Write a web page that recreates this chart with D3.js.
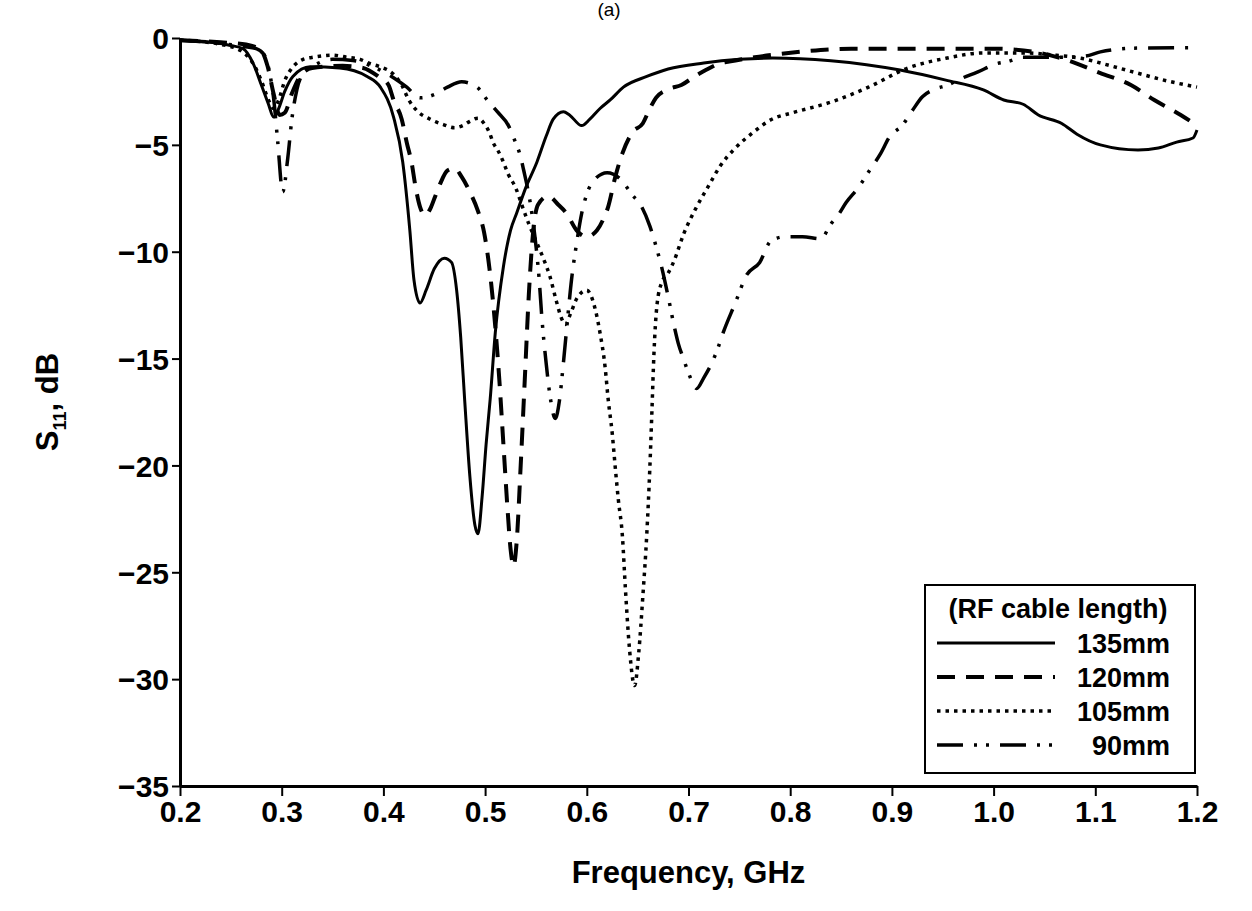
<!DOCTYPE html>
<html>
<head>
<meta charset="utf-8">
<script src="https://cdn.jsdelivr.net/npm/d3@7/dist/d3.min.js"></script>
<style>
  html, body { margin: 0; padding: 0; background: #fff; }
  svg { display: block; font-family: "Liberation Sans", Arial, sans-serif; font-weight: bold; }
</style>
</head>
<body>
<svg id="chart" width="1252" height="911"></svg>
<script>
// ======================================================================
// DATA  (frequency in GHz, S11 in dB)
// ======================================================================
const xTicks = [0.2, 0.3, 0.4, 0.5, 0.6, 0.7, 0.8, 0.9, 1.0, 1.1, 1.2];
const yTicks = [0, -5, -10, -15, -20, -25, -30, -35];

const s135 = [[0.2,-0.1],[0.23,-0.2],[0.25,-0.35],[0.262,-0.5],[0.272,-1.2],[0.28,-2.2],[0.287,-3.1],[0.292,-3.7],[0.297,-3.3],[0.303,-2.5],[0.311,-1.8],[0.328,-1.35],[0.357,-1.4],[0.384,-1.8],[0.397,-2.3],[0.41,-3.7],[0.419,-5.8],[0.426,-9.0],[0.43,-11.3],[0.436,-12.4],[0.442,-11.8],[0.45,-10.8],[0.46,-10.3],[0.467,-10.5],[0.472,-11.8],[0.476,-14],[0.48,-17],[0.485,-20.5],[0.49,-22.8],[0.493,-23.2],[0.497,-21.5],[0.501,-19],[0.505,-16.9],[0.51,-13.8],[0.518,-10.7],[0.525,-9.0],[0.531,-8.2],[0.54,-7.0],[0.551,-5.8],[0.56,-4.6],[0.567,-3.8],[0.577,-3.45],[0.583,-3.6],[0.595,-4.1],[0.603,-3.8],[0.613,-3.3],[0.623,-2.9],[0.636,-2.3],[0.659,-1.8],[0.68,-1.45],[0.715,-1.17],[0.75,-1.0],[0.783,-0.94],[0.84,-1.07],[0.875,-1.25],[0.908,-1.5],[0.953,-1.97],[0.99,-2.43],[1.01,-2.9],[1.029,-3.1],[1.044,-3.6],[1.067,-4.0],[1.082,-4.5],[1.105,-5.0],[1.142,-5.24],[1.162,-5.15],[1.18,-4.87],[1.196,-4.68],[1.2,-4.3]];

const s120 = [[0.2,-0.1],[0.24,-0.2],[0.265,-0.3],[0.28,-0.6],[0.286,-1.3],[0.292,-2.6],[0.298,-3.6],[0.303,-3.5],[0.31,-2.6],[0.318,-1.8],[0.33,-1.4],[0.36,-1.3],[0.38,-1.4],[0.395,-1.8],[0.405,-2.2],[0.41,-2.9],[0.418,-3.8],[0.423,-4.9],[0.428,-5.9],[0.431,-6.8],[0.436,-7.9],[0.441,-8.3],[0.446,-8.0],[0.451,-7.4],[0.456,-6.8],[0.463,-6.2],[0.47,-6.1],[0.477,-6.5],[0.485,-7.2],[0.493,-8.1],[0.499,-9.1],[0.503,-10.3],[0.506,-11.5],[0.51,-13.5],[0.514,-16],[0.518,-19],[0.522,-22],[0.525,-23.9],[0.528,-24.7],[0.531,-23.6],[0.535,-20],[0.539,-16],[0.543,-12],[0.547,-9.2],[0.552,-7.8],[0.562,-7.4],[0.572,-7.8],[0.58,-8.2],[0.59,-9.0],[0.6,-9.3],[0.61,-9.0],[0.616,-8.5],[0.621,-7.9],[0.628,-6.5],[0.635,-5.4],[0.645,-4.4],[0.655,-4.0],[0.662,-3.3],[0.668,-2.8],[0.68,-2.4],[0.693,-2.2],[0.706,-1.8],[0.717,-1.5],[0.73,-1.2],[0.74,-1.1],[0.765,-0.9],[0.79,-0.75],[0.82,-0.6],[0.86,-0.5],[0.95,-0.5],[1.0,-0.5],[1.04,-0.65],[1.07,-1.0],[1.105,-1.64],[1.135,-2.2],[1.158,-2.9],[1.184,-3.6],[1.2,-4.1]];

const s105 = [[0.2,-0.1],[0.24,-0.3],[0.26,-0.6],[0.272,-1.2],[0.28,-2.0],[0.287,-2.9],[0.292,-3.3],[0.297,-2.9],[0.303,-2.0],[0.312,-1.3],[0.321,-1.0],[0.331,-0.9],[0.35,-0.8],[0.364,-0.9],[0.377,-1.0],[0.387,-1.2],[0.397,-1.35],[0.41,-1.7],[0.418,-2.2],[0.425,-2.9],[0.433,-3.4],[0.446,-3.8],[0.459,-4.05],[0.47,-4.2],[0.478,-4.1],[0.485,-3.9],[0.493,-3.75],[0.499,-4.0],[0.504,-4.4],[0.508,-4.9],[0.513,-5.3],[0.517,-5.7],[0.523,-6.4],[0.53,-7.0],[0.536,-7.8],[0.543,-8.7],[0.551,-9.6],[0.558,-10.4],[0.564,-11.2],[0.57,-12.3],[0.575,-13.1],[0.579,-13.4],[0.584,-12.9],[0.59,-12.2],[0.595,-11.9],[0.6,-11.8],[0.606,-12.3],[0.613,-13.8],[0.618,-15.4],[0.621,-16.9],[0.625,-18.5],[0.628,-20.1],[0.631,-21.6],[0.635,-23.3],[0.638,-25.8],[0.642,-28.6],[0.647,-30.3],[0.651,-28.8],[0.655,-26.2],[0.659,-23.2],[0.662,-20.1],[0.664,-17.5],[0.666,-14.8],[0.669,-12.5],[0.674,-11.4],[0.68,-11.0],[0.686,-10.4],[0.695,-9.2],[0.708,-7.9],[0.72,-6.9],[0.731,-6.0],[0.745,-5.2],[0.764,-4.4],[0.782,-3.8],[0.802,-3.5],[0.84,-3.0],[0.877,-2.3],[0.916,-1.4],[0.953,-0.95],[0.99,-0.7],[1.029,-0.7],[1.06,-0.8],[1.086,-0.95],[1.115,-1.3],[1.142,-1.65],[1.17,-2.0],[1.2,-2.3]];

const s90 = [[0.2,-0.1],[0.24,-0.25],[0.262,-0.4],[0.275,-0.5],[0.283,-0.8],[0.288,-1.6],[0.292,-2.8],[0.296,-4.8],[0.301,-7.2],[0.306,-5.6],[0.31,-3.8],[0.315,-2.4],[0.322,-1.6],[0.335,-1.2],[0.35,-1.0],[0.37,-1.05],[0.39,-1.35],[0.408,-1.8],[0.423,-2.3],[0.436,-2.8],[0.45,-2.65],[0.463,-2.3],[0.477,-2.05],[0.492,-2.3],[0.502,-2.9],[0.512,-3.45],[0.523,-4.1],[0.53,-4.9],[0.534,-5.4],[0.538,-6.2],[0.544,-7.6],[0.549,-9.3],[0.553,-11.2],[0.556,-13.2],[0.56,-15.2],[0.564,-16.8],[0.569,-17.8],[0.573,-17.0],[0.577,-15.2],[0.581,-13.2],[0.585,-11.3],[0.59,-9.6],[0.595,-8.2],[0.6,-7.3],[0.608,-6.6],[0.62,-6.3],[0.633,-6.6],[0.644,-7.3],[0.654,-7.9],[0.662,-8.8],[0.669,-9.9],[0.674,-10.8],[0.68,-12.1],[0.686,-13.5],[0.69,-14.3],[0.695,-15.0],[0.701,-15.8],[0.708,-16.4],[0.715,-15.9],[0.723,-15.2],[0.729,-14.5],[0.734,-13.8],[0.746,-12.4],[0.757,-11.1],[0.77,-10.5],[0.781,-9.5],[0.795,-9.3],[0.812,-9.3],[0.83,-9.4],[0.84,-8.7],[0.847,-8.3],[0.855,-7.7],[0.867,-7.0],[0.878,-6.2],[0.889,-5.4],[0.898,-4.6],[0.91,-4.1],[0.92,-3.4],[0.93,-2.75],[0.942,-2.4],[0.955,-2.2],[0.968,-1.9],[0.984,-1.6],[1.003,-1.2],[1.014,-1.1],[1.029,-0.9],[1.067,-0.9],[1.09,-0.85],[1.105,-0.65],[1.142,-0.47],[1.2,-0.45]];

const seriesNames = ["135mm", "120mm", "105mm", "90mm"];
const seriesData = [s135, s120, s105, s90];

// line styles per series (solid, dashed, dotted, dash-dot-dot)
const styles = [
  { width: 3,   dash: null },
  { width: 4,   dash: "18,11" },
  { width: 3.5, dash: "3.5,5" },
  { width: 3.5, dash: "26,11,3,9,3,11" }
];

// ======================================================================
// SETUP
// ======================================================================
const svg = d3.select("#chart");
const W = 1252, H = 911;
const plot = { left: 180, right: 1197, top: 38, bottom: 786 };

svg.append("rect").attr("width", W).attr("height", H).attr("fill", "#fff");

const x = d3.scaleLinear().domain([0.2, 1.2]).range([plot.left, plot.right]);
const y = d3.scaleLinear().domain([-35, 0]).range([plot.bottom, plot.top]);

// ======================================================================
// AXES
// ======================================================================
const xAxis = d3.axisBottom(x)
  .tickValues(xTicks)
  .tickFormat(d3.format(".1f"))
  .tickSizeInner(10)
  .tickSizeOuter(0)
  .tickPadding(5);

const yAxis = d3.axisLeft(y)
  .tickValues(yTicks)
  .tickFormat(d3.format("d"))
  .tickSizeInner(8)
  .tickSizeOuter(0)
  .tickPadding(3);

const gx = svg.append("g")
  .attr("transform", `translate(0,${plot.bottom})`)
  .call(xAxis);

const gy = svg.append("g")
  .attr("transform", `translate(${plot.left},0)`)
  .call(yAxis);

[gx, gy].forEach(g => {
  g.select(".domain").attr("stroke", "#000").attr("stroke-width", 3);
  g.selectAll(".tick line").attr("stroke", "#000").attr("stroke-width", 2);
  g.selectAll(".tick text")
    .attr("fill", "#000")
    .attr("font-size", 30)
    .attr("font-weight", "bold")
    .attr("font-family", "'Liberation Sans', Arial, sans-serif");
});
gy.selectAll(".tick text").attr("dy", "0.36em");

// ======================================================================
// CURVES
// ======================================================================
const line = d3.line()
  .x(d => x(d[0]))
  .y(d => y(d[1]))
  .curve(d3.curveMonotoneX);

const curves = svg.append("g").attr("class", "curves");
seriesData.forEach((data, i) => {
  curves.append("path")
    .datum(data)
    .attr("d", line)
    .attr("fill", "none")
    .attr("stroke", "#000")
    .attr("stroke-width", styles[i].width)
    .attr("stroke-dasharray", styles[i].dash)
    .attr("stroke-linejoin", "round");
});

// ======================================================================
// LABELS
// ======================================================================
svg.append("text")
  .attr("x", 609).attr("y", 16)
  .attr("text-anchor", "middle")
  .attr("font-size", 19)
  .attr("font-weight", "normal")
  .text("(a)");

svg.append("text")
  .attr("x", (plot.left + plot.right) / 2).attr("y", 883)
  .attr("text-anchor", "middle")
  .attr("font-size", 31)
  .text("Frequency, GHz");

const yLabel = svg.append("text")
  .attr("transform", `translate(58,402) rotate(-90)`)
  .attr("text-anchor", "middle")
  .attr("font-size", 31);
yLabel.append("tspan").text("S");
yLabel.append("tspan").attr("font-size", 18).attr("dy", 8).text("11");
yLabel.append("tspan").attr("dy", -8).text(", dB");

// ======================================================================
// LEGEND
// ======================================================================
const legend = svg.append("g").attr("class", "legend");
legend.append("rect")
  .attr("x", 925).attr("y", 585)
  .attr("width", 270).attr("height", 188)
  .attr("fill", "#fff")
  .attr("stroke", "#000")
  .attr("stroke-width", 2);

legend.append("text")
  .attr("x", 1058).attr("y", 618)
  .attr("text-anchor", "middle")
  .attr("font-size", 27)
  .text("(RF cable length)");

seriesNames.forEach((name, i) => {
  const cy = 643 + i * 34;
  legend.append("line")
    .attr("x1", 937).attr("x2", 1055)
    .attr("y1", cy).attr("y2", cy)
    .attr("stroke", "#000")
    .attr("stroke-width", styles[i].width)
    .attr("stroke-dasharray", styles[i].dash);
  legend.append("text")
    .attr("x", 1170).attr("y", cy + 10)
    .attr("text-anchor", "end")
    .attr("font-size", 27)
    .text(name);
});
</script>
</body>
</html>
